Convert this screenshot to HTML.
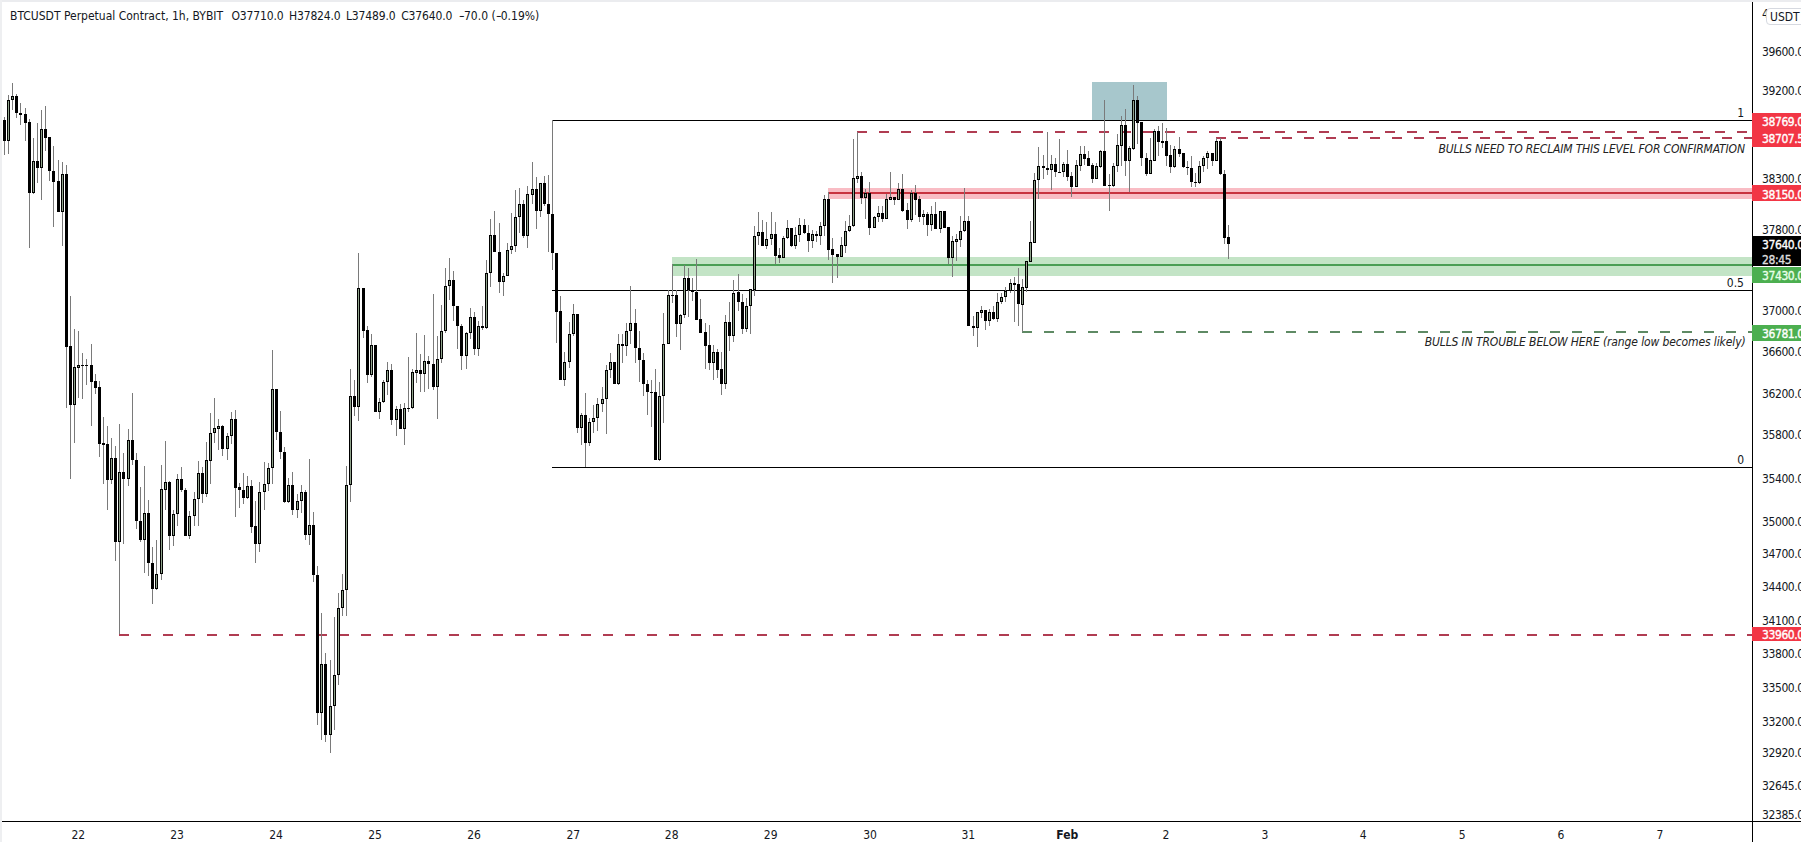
<!DOCTYPE html>
<html><head><meta charset="utf-8"><style>
html,body{margin:0;padding:0;background:#fff;}
body{width:1801px;height:842px;position:relative;overflow:hidden;font-family:"DejaVu Sans Condensed","Liberation Sans",sans-serif;}
</style></head><body>
<svg width="1801" height="842" shape-rendering="crispEdges" style="position:absolute;left:0;top:0">
<rect x="672" y="257" width="1080" height="19" fill="#c3e4c6"/>
<rect x="672" y="264" width="1080" height="2" fill="#4a9e55"/>
<rect x="828" y="188" width="924" height="11" fill="#f9bcc4"/>
<rect x="828" y="192" width="924" height="2" fill="#c8323f"/>
<rect x="1092" y="82" width="75" height="38" fill="#a7c7cc"/>
<rect x="552" y="120" width="1200" height="1" fill="#000"/>
<rect x="552" y="290" width="1200" height="1" fill="#000"/>
<rect x="552" y="467" width="1200" height="1" fill="#000"/>
<rect x="857.0" y="131.0" width="10.0" height="2" fill="#b03c52"/>
<rect x="879.0" y="131.0" width="10.0" height="2" fill="#b03c52"/>
<rect x="901.0" y="131.0" width="10.0" height="2" fill="#b03c52"/>
<rect x="923.0" y="131.0" width="10.0" height="2" fill="#b03c52"/>
<rect x="945.0" y="131.0" width="10.0" height="2" fill="#b03c52"/>
<rect x="967.0" y="131.0" width="10.0" height="2" fill="#b03c52"/>
<rect x="989.0" y="131.0" width="10.0" height="2" fill="#b03c52"/>
<rect x="1011.0" y="131.0" width="10.0" height="2" fill="#b03c52"/>
<rect x="1033.0" y="131.0" width="10.0" height="2" fill="#b03c52"/>
<rect x="1055.0" y="131.0" width="10.0" height="2" fill="#b03c52"/>
<rect x="1077.0" y="131.0" width="10.0" height="2" fill="#b03c52"/>
<rect x="1099.0" y="131.0" width="10.0" height="2" fill="#b03c52"/>
<rect x="1121.0" y="131.0" width="10.0" height="2" fill="#b03c52"/>
<rect x="1143.0" y="131.0" width="10.0" height="2" fill="#b03c52"/>
<rect x="1165.0" y="131.0" width="10.0" height="2" fill="#b03c52"/>
<rect x="1187.0" y="131.0" width="10.0" height="2" fill="#b03c52"/>
<rect x="1209.0" y="131.0" width="10.0" height="2" fill="#b03c52"/>
<rect x="1231.0" y="131.0" width="10.0" height="2" fill="#b03c52"/>
<rect x="1253.0" y="131.0" width="10.0" height="2" fill="#b03c52"/>
<rect x="1275.0" y="131.0" width="10.0" height="2" fill="#b03c52"/>
<rect x="1297.0" y="131.0" width="10.0" height="2" fill="#b03c52"/>
<rect x="1319.0" y="131.0" width="10.0" height="2" fill="#b03c52"/>
<rect x="1341.0" y="131.0" width="10.0" height="2" fill="#b03c52"/>
<rect x="1363.0" y="131.0" width="10.0" height="2" fill="#b03c52"/>
<rect x="1385.0" y="131.0" width="10.0" height="2" fill="#b03c52"/>
<rect x="1407.0" y="131.0" width="10.0" height="2" fill="#b03c52"/>
<rect x="1429.0" y="131.0" width="10.0" height="2" fill="#b03c52"/>
<rect x="1451.0" y="131.0" width="10.0" height="2" fill="#b03c52"/>
<rect x="1473.0" y="131.0" width="10.0" height="2" fill="#b03c52"/>
<rect x="1495.0" y="131.0" width="10.0" height="2" fill="#b03c52"/>
<rect x="1517.0" y="131.0" width="10.0" height="2" fill="#b03c52"/>
<rect x="1539.0" y="131.0" width="10.0" height="2" fill="#b03c52"/>
<rect x="1561.0" y="131.0" width="10.0" height="2" fill="#b03c52"/>
<rect x="1583.0" y="131.0" width="10.0" height="2" fill="#b03c52"/>
<rect x="1605.0" y="131.0" width="10.0" height="2" fill="#b03c52"/>
<rect x="1627.0" y="131.0" width="10.0" height="2" fill="#b03c52"/>
<rect x="1649.0" y="131.0" width="10.0" height="2" fill="#b03c52"/>
<rect x="1671.0" y="131.0" width="10.0" height="2" fill="#b03c52"/>
<rect x="1693.0" y="131.0" width="10.0" height="2" fill="#b03c52"/>
<rect x="1715.0" y="131.0" width="10.0" height="2" fill="#b03c52"/>
<rect x="1737.0" y="131.0" width="10.0" height="2" fill="#b03c52"/>
<rect x="1216.0" y="137.0" width="10.0" height="2" fill="#b03c52"/>
<rect x="1238.0" y="137.0" width="10.0" height="2" fill="#b03c52"/>
<rect x="1260.0" y="137.0" width="10.0" height="2" fill="#b03c52"/>
<rect x="1282.0" y="137.0" width="10.0" height="2" fill="#b03c52"/>
<rect x="1304.0" y="137.0" width="10.0" height="2" fill="#b03c52"/>
<rect x="1326.0" y="137.0" width="10.0" height="2" fill="#b03c52"/>
<rect x="1348.0" y="137.0" width="10.0" height="2" fill="#b03c52"/>
<rect x="1370.0" y="137.0" width="10.0" height="2" fill="#b03c52"/>
<rect x="1392.0" y="137.0" width="10.0" height="2" fill="#b03c52"/>
<rect x="1414.0" y="137.0" width="10.0" height="2" fill="#b03c52"/>
<rect x="1436.0" y="137.0" width="10.0" height="2" fill="#b03c52"/>
<rect x="1458.0" y="137.0" width="10.0" height="2" fill="#b03c52"/>
<rect x="1480.0" y="137.0" width="10.0" height="2" fill="#b03c52"/>
<rect x="1502.0" y="137.0" width="10.0" height="2" fill="#b03c52"/>
<rect x="1524.0" y="137.0" width="10.0" height="2" fill="#b03c52"/>
<rect x="1546.0" y="137.0" width="10.0" height="2" fill="#b03c52"/>
<rect x="1568.0" y="137.0" width="10.0" height="2" fill="#b03c52"/>
<rect x="1590.0" y="137.0" width="10.0" height="2" fill="#b03c52"/>
<rect x="1612.0" y="137.0" width="10.0" height="2" fill="#b03c52"/>
<rect x="1634.0" y="137.0" width="10.0" height="2" fill="#b03c52"/>
<rect x="1656.0" y="137.0" width="10.0" height="2" fill="#b03c52"/>
<rect x="1678.0" y="137.0" width="10.0" height="2" fill="#b03c52"/>
<rect x="1700.0" y="137.0" width="10.0" height="2" fill="#b03c52"/>
<rect x="1722.0" y="137.0" width="10.0" height="2" fill="#b03c52"/>
<rect x="1744.0" y="137.0" width="8.0" height="2" fill="#b03c52"/>
<rect x="119.0" y="634.0" width="10.0" height="2" fill="#b03c52"/>
<rect x="141.0" y="634.0" width="10.0" height="2" fill="#b03c52"/>
<rect x="163.0" y="634.0" width="10.0" height="2" fill="#b03c52"/>
<rect x="185.0" y="634.0" width="10.0" height="2" fill="#b03c52"/>
<rect x="207.0" y="634.0" width="10.0" height="2" fill="#b03c52"/>
<rect x="229.0" y="634.0" width="10.0" height="2" fill="#b03c52"/>
<rect x="251.0" y="634.0" width="10.0" height="2" fill="#b03c52"/>
<rect x="273.0" y="634.0" width="10.0" height="2" fill="#b03c52"/>
<rect x="295.0" y="634.0" width="10.0" height="2" fill="#b03c52"/>
<rect x="317.0" y="634.0" width="10.0" height="2" fill="#b03c52"/>
<rect x="339.0" y="634.0" width="10.0" height="2" fill="#b03c52"/>
<rect x="361.0" y="634.0" width="10.0" height="2" fill="#b03c52"/>
<rect x="383.0" y="634.0" width="10.0" height="2" fill="#b03c52"/>
<rect x="405.0" y="634.0" width="10.0" height="2" fill="#b03c52"/>
<rect x="427.0" y="634.0" width="10.0" height="2" fill="#b03c52"/>
<rect x="449.0" y="634.0" width="10.0" height="2" fill="#b03c52"/>
<rect x="471.0" y="634.0" width="10.0" height="2" fill="#b03c52"/>
<rect x="493.0" y="634.0" width="10.0" height="2" fill="#b03c52"/>
<rect x="515.0" y="634.0" width="10.0" height="2" fill="#b03c52"/>
<rect x="537.0" y="634.0" width="10.0" height="2" fill="#b03c52"/>
<rect x="559.0" y="634.0" width="10.0" height="2" fill="#b03c52"/>
<rect x="581.0" y="634.0" width="10.0" height="2" fill="#b03c52"/>
<rect x="603.0" y="634.0" width="10.0" height="2" fill="#b03c52"/>
<rect x="625.0" y="634.0" width="10.0" height="2" fill="#b03c52"/>
<rect x="647.0" y="634.0" width="10.0" height="2" fill="#b03c52"/>
<rect x="669.0" y="634.0" width="10.0" height="2" fill="#b03c52"/>
<rect x="691.0" y="634.0" width="10.0" height="2" fill="#b03c52"/>
<rect x="713.0" y="634.0" width="10.0" height="2" fill="#b03c52"/>
<rect x="735.0" y="634.0" width="10.0" height="2" fill="#b03c52"/>
<rect x="757.0" y="634.0" width="10.0" height="2" fill="#b03c52"/>
<rect x="779.0" y="634.0" width="10.0" height="2" fill="#b03c52"/>
<rect x="801.0" y="634.0" width="10.0" height="2" fill="#b03c52"/>
<rect x="823.0" y="634.0" width="10.0" height="2" fill="#b03c52"/>
<rect x="845.0" y="634.0" width="10.0" height="2" fill="#b03c52"/>
<rect x="867.0" y="634.0" width="10.0" height="2" fill="#b03c52"/>
<rect x="889.0" y="634.0" width="10.0" height="2" fill="#b03c52"/>
<rect x="911.0" y="634.0" width="10.0" height="2" fill="#b03c52"/>
<rect x="933.0" y="634.0" width="10.0" height="2" fill="#b03c52"/>
<rect x="955.0" y="634.0" width="10.0" height="2" fill="#b03c52"/>
<rect x="977.0" y="634.0" width="10.0" height="2" fill="#b03c52"/>
<rect x="999.0" y="634.0" width="10.0" height="2" fill="#b03c52"/>
<rect x="1021.0" y="634.0" width="10.0" height="2" fill="#b03c52"/>
<rect x="1043.0" y="634.0" width="10.0" height="2" fill="#b03c52"/>
<rect x="1065.0" y="634.0" width="10.0" height="2" fill="#b03c52"/>
<rect x="1087.0" y="634.0" width="10.0" height="2" fill="#b03c52"/>
<rect x="1109.0" y="634.0" width="10.0" height="2" fill="#b03c52"/>
<rect x="1131.0" y="634.0" width="10.0" height="2" fill="#b03c52"/>
<rect x="1153.0" y="634.0" width="10.0" height="2" fill="#b03c52"/>
<rect x="1175.0" y="634.0" width="10.0" height="2" fill="#b03c52"/>
<rect x="1197.0" y="634.0" width="10.0" height="2" fill="#b03c52"/>
<rect x="1219.0" y="634.0" width="10.0" height="2" fill="#b03c52"/>
<rect x="1241.0" y="634.0" width="10.0" height="2" fill="#b03c52"/>
<rect x="1263.0" y="634.0" width="10.0" height="2" fill="#b03c52"/>
<rect x="1285.0" y="634.0" width="10.0" height="2" fill="#b03c52"/>
<rect x="1307.0" y="634.0" width="10.0" height="2" fill="#b03c52"/>
<rect x="1329.0" y="634.0" width="10.0" height="2" fill="#b03c52"/>
<rect x="1351.0" y="634.0" width="10.0" height="2" fill="#b03c52"/>
<rect x="1373.0" y="634.0" width="10.0" height="2" fill="#b03c52"/>
<rect x="1395.0" y="634.0" width="10.0" height="2" fill="#b03c52"/>
<rect x="1417.0" y="634.0" width="10.0" height="2" fill="#b03c52"/>
<rect x="1439.0" y="634.0" width="10.0" height="2" fill="#b03c52"/>
<rect x="1461.0" y="634.0" width="10.0" height="2" fill="#b03c52"/>
<rect x="1483.0" y="634.0" width="10.0" height="2" fill="#b03c52"/>
<rect x="1505.0" y="634.0" width="10.0" height="2" fill="#b03c52"/>
<rect x="1527.0" y="634.0" width="10.0" height="2" fill="#b03c52"/>
<rect x="1549.0" y="634.0" width="10.0" height="2" fill="#b03c52"/>
<rect x="1571.0" y="634.0" width="10.0" height="2" fill="#b03c52"/>
<rect x="1593.0" y="634.0" width="10.0" height="2" fill="#b03c52"/>
<rect x="1615.0" y="634.0" width="10.0" height="2" fill="#b03c52"/>
<rect x="1637.0" y="634.0" width="10.0" height="2" fill="#b03c52"/>
<rect x="1659.0" y="634.0" width="10.0" height="2" fill="#b03c52"/>
<rect x="1681.0" y="634.0" width="10.0" height="2" fill="#b03c52"/>
<rect x="1703.0" y="634.0" width="10.0" height="2" fill="#b03c52"/>
<rect x="1725.0" y="634.0" width="10.0" height="2" fill="#b03c52"/>
<rect x="1747.0" y="634.0" width="5.0" height="2" fill="#b03c52"/>
<rect x="1022.0" y="331.0" width="10.0" height="2" fill="#5e8a64"/>
<rect x="1044.0" y="331.0" width="10.0" height="2" fill="#5e8a64"/>
<rect x="1066.0" y="331.0" width="10.0" height="2" fill="#5e8a64"/>
<rect x="1088.0" y="331.0" width="10.0" height="2" fill="#5e8a64"/>
<rect x="1110.0" y="331.0" width="10.0" height="2" fill="#5e8a64"/>
<rect x="1132.0" y="331.0" width="10.0" height="2" fill="#5e8a64"/>
<rect x="1154.0" y="331.0" width="10.0" height="2" fill="#5e8a64"/>
<rect x="1176.0" y="331.0" width="10.0" height="2" fill="#5e8a64"/>
<rect x="1198.0" y="331.0" width="10.0" height="2" fill="#5e8a64"/>
<rect x="1220.0" y="331.0" width="10.0" height="2" fill="#5e8a64"/>
<rect x="1242.0" y="331.0" width="10.0" height="2" fill="#5e8a64"/>
<rect x="1264.0" y="331.0" width="10.0" height="2" fill="#5e8a64"/>
<rect x="1286.0" y="331.0" width="10.0" height="2" fill="#5e8a64"/>
<rect x="1308.0" y="331.0" width="10.0" height="2" fill="#5e8a64"/>
<rect x="1330.0" y="331.0" width="10.0" height="2" fill="#5e8a64"/>
<rect x="1352.0" y="331.0" width="10.0" height="2" fill="#5e8a64"/>
<rect x="1374.0" y="331.0" width="10.0" height="2" fill="#5e8a64"/>
<rect x="1396.0" y="331.0" width="10.0" height="2" fill="#5e8a64"/>
<rect x="1418.0" y="331.0" width="10.0" height="2" fill="#5e8a64"/>
<rect x="1440.0" y="331.0" width="10.0" height="2" fill="#5e8a64"/>
<rect x="1462.0" y="331.0" width="10.0" height="2" fill="#5e8a64"/>
<rect x="1484.0" y="331.0" width="10.0" height="2" fill="#5e8a64"/>
<rect x="1506.0" y="331.0" width="10.0" height="2" fill="#5e8a64"/>
<rect x="1528.0" y="331.0" width="10.0" height="2" fill="#5e8a64"/>
<rect x="1550.0" y="331.0" width="10.0" height="2" fill="#5e8a64"/>
<rect x="1572.0" y="331.0" width="10.0" height="2" fill="#5e8a64"/>
<rect x="1594.0" y="331.0" width="10.0" height="2" fill="#5e8a64"/>
<rect x="1616.0" y="331.0" width="10.0" height="2" fill="#5e8a64"/>
<rect x="1638.0" y="331.0" width="10.0" height="2" fill="#5e8a64"/>
<rect x="1660.0" y="331.0" width="10.0" height="2" fill="#5e8a64"/>
<rect x="1682.0" y="331.0" width="10.0" height="2" fill="#5e8a64"/>
<rect x="1704.0" y="331.0" width="10.0" height="2" fill="#5e8a64"/>
<rect x="1726.0" y="331.0" width="10.0" height="2" fill="#5e8a64"/>
<rect x="1748.0" y="331.0" width="4.0" height="2" fill="#5e8a64"/>
<rect x="4" y="117" width="1" height="38" fill="#7a7a7a"/>
<rect x="3" y="120" width="3" height="21" fill="#000"/>
<rect x="8" y="95" width="1" height="59" fill="#7a7a7a"/>
<rect x="7" y="100" width="3" height="41" fill="#000"/>
<rect x="8" y="101" width="1" height="39" fill="#8fa38b"/>
<rect x="12" y="83" width="1" height="27" fill="#7a7a7a"/>
<rect x="11" y="96" width="3" height="4" fill="#000"/>
<rect x="12" y="97" width="1" height="2" fill="#8fa38b"/>
<rect x="16" y="94" width="1" height="24" fill="#7a7a7a"/>
<rect x="15" y="96" width="3" height="17" fill="#000"/>
<rect x="20" y="103" width="1" height="22" fill="#7a7a7a"/>
<rect x="19" y="113" width="3" height="2" fill="#000"/>
<rect x="25" y="108" width="1" height="33" fill="#7a7a7a"/>
<rect x="24" y="114" width="3" height="9" fill="#000"/>
<rect x="29" y="119" width="1" height="129" fill="#7a7a7a"/>
<rect x="28" y="122" width="3" height="71" fill="#000"/>
<rect x="33" y="138" width="1" height="56" fill="#7a7a7a"/>
<rect x="32" y="161" width="3" height="32" fill="#000"/>
<rect x="33" y="162" width="1" height="30" fill="#8fa38b"/>
<rect x="37" y="123" width="1" height="60" fill="#7a7a7a"/>
<rect x="36" y="161" width="3" height="7" fill="#000"/>
<rect x="41" y="110" width="1" height="90" fill="#7a7a7a"/>
<rect x="40" y="129" width="3" height="39" fill="#000"/>
<rect x="41" y="130" width="1" height="37" fill="#8fa38b"/>
<rect x="45" y="106" width="1" height="45" fill="#7a7a7a"/>
<rect x="44" y="129" width="3" height="9" fill="#000"/>
<rect x="49" y="137" width="1" height="44" fill="#7a7a7a"/>
<rect x="48" y="137" width="3" height="34" fill="#000"/>
<rect x="53" y="146" width="1" height="81" fill="#7a7a7a"/>
<rect x="52" y="171" width="3" height="11" fill="#000"/>
<rect x="58" y="160" width="1" height="52" fill="#7a7a7a"/>
<rect x="57" y="181" width="3" height="31" fill="#000"/>
<rect x="62" y="162" width="1" height="84" fill="#7a7a7a"/>
<rect x="61" y="174" width="3" height="38" fill="#000"/>
<rect x="62" y="175" width="1" height="36" fill="#8fa38b"/>
<rect x="66" y="165" width="1" height="243" fill="#7a7a7a"/>
<rect x="65" y="174" width="3" height="173" fill="#000"/>
<rect x="70" y="296" width="1" height="183" fill="#7a7a7a"/>
<rect x="69" y="346" width="3" height="59" fill="#000"/>
<rect x="74" y="329" width="1" height="114" fill="#7a7a7a"/>
<rect x="73" y="367" width="3" height="38" fill="#000"/>
<rect x="74" y="368" width="1" height="36" fill="#8fa38b"/>
<rect x="78" y="331" width="1" height="67" fill="#7a7a7a"/>
<rect x="77" y="365" width="3" height="3" fill="#000"/>
<rect x="78" y="366" width="1" height="1" fill="#8fa38b"/>
<rect x="82" y="353" width="1" height="46" fill="#7a7a7a"/>
<rect x="81" y="365" width="3" height="1" fill="#000"/>
<rect x="86" y="359" width="1" height="26" fill="#7a7a7a"/>
<rect x="85" y="365" width="3" height="1" fill="#000"/>
<rect x="91" y="344" width="1" height="82" fill="#7a7a7a"/>
<rect x="90" y="365" width="3" height="17" fill="#000"/>
<rect x="95" y="374" width="1" height="20" fill="#7a7a7a"/>
<rect x="94" y="381" width="3" height="7" fill="#000"/>
<rect x="99" y="381" width="1" height="76" fill="#7a7a7a"/>
<rect x="98" y="387" width="3" height="57" fill="#000"/>
<rect x="103" y="417" width="1" height="67" fill="#7a7a7a"/>
<rect x="102" y="443" width="3" height="2" fill="#000"/>
<rect x="107" y="426" width="1" height="84" fill="#7a7a7a"/>
<rect x="106" y="444" width="3" height="36" fill="#000"/>
<rect x="111" y="438" width="1" height="46" fill="#7a7a7a"/>
<rect x="110" y="458" width="3" height="22" fill="#000"/>
<rect x="111" y="459" width="1" height="20" fill="#8fa38b"/>
<rect x="115" y="446" width="1" height="115" fill="#7a7a7a"/>
<rect x="114" y="458" width="3" height="84" fill="#000"/>
<rect x="119" y="424" width="1" height="210" fill="#7a7a7a"/>
<rect x="118" y="472" width="3" height="70" fill="#000"/>
<rect x="119" y="473" width="1" height="68" fill="#8fa38b"/>
<rect x="123" y="453" width="1" height="91" fill="#7a7a7a"/>
<rect x="122" y="472" width="3" height="7" fill="#000"/>
<rect x="128" y="429" width="1" height="57" fill="#7a7a7a"/>
<rect x="127" y="440" width="3" height="39" fill="#000"/>
<rect x="128" y="441" width="1" height="37" fill="#8fa38b"/>
<rect x="132" y="393" width="1" height="72" fill="#7a7a7a"/>
<rect x="131" y="440" width="3" height="20" fill="#000"/>
<rect x="136" y="453" width="1" height="76" fill="#7a7a7a"/>
<rect x="135" y="460" width="3" height="61" fill="#000"/>
<rect x="140" y="487" width="1" height="55" fill="#7a7a7a"/>
<rect x="139" y="521" width="3" height="19" fill="#000"/>
<rect x="144" y="466" width="1" height="107" fill="#7a7a7a"/>
<rect x="143" y="513" width="3" height="27" fill="#000"/>
<rect x="144" y="514" width="1" height="25" fill="#8fa38b"/>
<rect x="148" y="500" width="1" height="76" fill="#7a7a7a"/>
<rect x="147" y="513" width="3" height="50" fill="#000"/>
<rect x="152" y="547" width="1" height="57" fill="#7a7a7a"/>
<rect x="151" y="563" width="3" height="26" fill="#000"/>
<rect x="156" y="540" width="1" height="50" fill="#7a7a7a"/>
<rect x="155" y="574" width="3" height="15" fill="#000"/>
<rect x="156" y="575" width="1" height="13" fill="#8fa38b"/>
<rect x="161" y="465" width="1" height="115" fill="#7a7a7a"/>
<rect x="160" y="489" width="3" height="85" fill="#000"/>
<rect x="161" y="490" width="1" height="83" fill="#8fa38b"/>
<rect x="165" y="441" width="1" height="69" fill="#7a7a7a"/>
<rect x="164" y="482" width="3" height="8" fill="#000"/>
<rect x="165" y="483" width="1" height="6" fill="#8fa38b"/>
<rect x="169" y="481" width="1" height="69" fill="#7a7a7a"/>
<rect x="168" y="482" width="3" height="54" fill="#000"/>
<rect x="173" y="510" width="1" height="36" fill="#7a7a7a"/>
<rect x="172" y="514" width="3" height="22" fill="#000"/>
<rect x="173" y="515" width="1" height="20" fill="#8fa38b"/>
<rect x="177" y="474" width="1" height="52" fill="#7a7a7a"/>
<rect x="176" y="479" width="3" height="35" fill="#000"/>
<rect x="177" y="480" width="1" height="33" fill="#8fa38b"/>
<rect x="181" y="467" width="1" height="25" fill="#7a7a7a"/>
<rect x="180" y="479" width="3" height="11" fill="#000"/>
<rect x="185" y="488" width="1" height="48" fill="#7a7a7a"/>
<rect x="184" y="490" width="3" height="46" fill="#000"/>
<rect x="189" y="511" width="1" height="28" fill="#7a7a7a"/>
<rect x="188" y="516" width="3" height="20" fill="#000"/>
<rect x="189" y="517" width="1" height="18" fill="#8fa38b"/>
<rect x="194" y="492" width="1" height="34" fill="#7a7a7a"/>
<rect x="193" y="499" width="3" height="17" fill="#000"/>
<rect x="194" y="500" width="1" height="15" fill="#8fa38b"/>
<rect x="198" y="461" width="1" height="65" fill="#7a7a7a"/>
<rect x="197" y="473" width="3" height="26" fill="#000"/>
<rect x="198" y="474" width="1" height="24" fill="#8fa38b"/>
<rect x="202" y="467" width="1" height="36" fill="#7a7a7a"/>
<rect x="201" y="473" width="3" height="21" fill="#000"/>
<rect x="206" y="442" width="1" height="55" fill="#7a7a7a"/>
<rect x="205" y="460" width="3" height="34" fill="#000"/>
<rect x="206" y="461" width="1" height="32" fill="#8fa38b"/>
<rect x="210" y="413" width="1" height="71" fill="#7a7a7a"/>
<rect x="209" y="433" width="3" height="28" fill="#000"/>
<rect x="210" y="434" width="1" height="26" fill="#8fa38b"/>
<rect x="214" y="398" width="1" height="45" fill="#7a7a7a"/>
<rect x="213" y="428" width="3" height="5" fill="#000"/>
<rect x="214" y="429" width="1" height="3" fill="#8fa38b"/>
<rect x="218" y="419" width="1" height="31" fill="#7a7a7a"/>
<rect x="217" y="426" width="3" height="3" fill="#000"/>
<rect x="218" y="427" width="1" height="1" fill="#8fa38b"/>
<rect x="222" y="425" width="1" height="31" fill="#7a7a7a"/>
<rect x="221" y="426" width="3" height="23" fill="#000"/>
<rect x="227" y="433" width="1" height="27" fill="#7a7a7a"/>
<rect x="226" y="436" width="3" height="13" fill="#000"/>
<rect x="227" y="437" width="1" height="11" fill="#8fa38b"/>
<rect x="231" y="412" width="1" height="32" fill="#7a7a7a"/>
<rect x="230" y="419" width="3" height="17" fill="#000"/>
<rect x="231" y="420" width="1" height="15" fill="#8fa38b"/>
<rect x="235" y="410" width="1" height="107" fill="#7a7a7a"/>
<rect x="234" y="419" width="3" height="69" fill="#000"/>
<rect x="239" y="483" width="1" height="25" fill="#7a7a7a"/>
<rect x="238" y="487" width="3" height="3" fill="#000"/>
<rect x="243" y="473" width="1" height="31" fill="#7a7a7a"/>
<rect x="242" y="490" width="3" height="8" fill="#000"/>
<rect x="247" y="476" width="1" height="23" fill="#7a7a7a"/>
<rect x="246" y="486" width="3" height="12" fill="#000"/>
<rect x="247" y="487" width="1" height="10" fill="#8fa38b"/>
<rect x="251" y="480" width="1" height="53" fill="#7a7a7a"/>
<rect x="250" y="486" width="3" height="41" fill="#000"/>
<rect x="255" y="501" width="1" height="62" fill="#7a7a7a"/>
<rect x="254" y="526" width="3" height="18" fill="#000"/>
<rect x="259" y="482" width="1" height="70" fill="#7a7a7a"/>
<rect x="258" y="492" width="3" height="52" fill="#000"/>
<rect x="259" y="493" width="1" height="50" fill="#8fa38b"/>
<rect x="264" y="462" width="1" height="48" fill="#7a7a7a"/>
<rect x="263" y="484" width="3" height="8" fill="#000"/>
<rect x="264" y="485" width="1" height="6" fill="#8fa38b"/>
<rect x="268" y="463" width="1" height="28" fill="#7a7a7a"/>
<rect x="267" y="468" width="3" height="16" fill="#000"/>
<rect x="268" y="469" width="1" height="14" fill="#8fa38b"/>
<rect x="272" y="350" width="1" height="134" fill="#7a7a7a"/>
<rect x="271" y="389" width="3" height="79" fill="#000"/>
<rect x="272" y="390" width="1" height="77" fill="#8fa38b"/>
<rect x="276" y="389" width="1" height="51" fill="#7a7a7a"/>
<rect x="275" y="389" width="3" height="43" fill="#000"/>
<rect x="280" y="411" width="1" height="48" fill="#7a7a7a"/>
<rect x="279" y="432" width="3" height="20" fill="#000"/>
<rect x="284" y="447" width="1" height="56" fill="#7a7a7a"/>
<rect x="283" y="452" width="3" height="50" fill="#000"/>
<rect x="288" y="478" width="1" height="25" fill="#7a7a7a"/>
<rect x="287" y="485" width="3" height="17" fill="#000"/>
<rect x="288" y="486" width="1" height="15" fill="#8fa38b"/>
<rect x="292" y="472" width="1" height="43" fill="#7a7a7a"/>
<rect x="291" y="485" width="3" height="25" fill="#000"/>
<rect x="297" y="494" width="1" height="24" fill="#7a7a7a"/>
<rect x="296" y="501" width="3" height="9" fill="#000"/>
<rect x="297" y="502" width="1" height="7" fill="#8fa38b"/>
<rect x="301" y="485" width="1" height="28" fill="#7a7a7a"/>
<rect x="300" y="492" width="3" height="9" fill="#000"/>
<rect x="301" y="493" width="1" height="7" fill="#8fa38b"/>
<rect x="305" y="490" width="1" height="50" fill="#7a7a7a"/>
<rect x="304" y="492" width="3" height="43" fill="#000"/>
<rect x="309" y="459" width="1" height="86" fill="#7a7a7a"/>
<rect x="308" y="525" width="3" height="10" fill="#000"/>
<rect x="309" y="526" width="1" height="8" fill="#8fa38b"/>
<rect x="313" y="512" width="1" height="70" fill="#7a7a7a"/>
<rect x="312" y="525" width="3" height="50" fill="#000"/>
<rect x="317" y="566" width="1" height="159" fill="#7a7a7a"/>
<rect x="316" y="575" width="3" height="138" fill="#000"/>
<rect x="321" y="613" width="1" height="127" fill="#7a7a7a"/>
<rect x="320" y="664" width="3" height="49" fill="#000"/>
<rect x="321" y="665" width="1" height="47" fill="#8fa38b"/>
<rect x="325" y="653" width="1" height="89" fill="#7a7a7a"/>
<rect x="324" y="664" width="3" height="71" fill="#000"/>
<rect x="330" y="660" width="1" height="93" fill="#7a7a7a"/>
<rect x="329" y="706" width="3" height="29" fill="#000"/>
<rect x="330" y="707" width="1" height="27" fill="#8fa38b"/>
<rect x="334" y="617" width="1" height="113" fill="#7a7a7a"/>
<rect x="333" y="675" width="3" height="31" fill="#000"/>
<rect x="334" y="676" width="1" height="29" fill="#8fa38b"/>
<rect x="338" y="593" width="1" height="92" fill="#7a7a7a"/>
<rect x="337" y="608" width="3" height="67" fill="#000"/>
<rect x="338" y="609" width="1" height="65" fill="#8fa38b"/>
<rect x="342" y="574" width="1" height="42" fill="#7a7a7a"/>
<rect x="341" y="590" width="3" height="18" fill="#000"/>
<rect x="342" y="591" width="1" height="16" fill="#8fa38b"/>
<rect x="346" y="466" width="1" height="150" fill="#7a7a7a"/>
<rect x="345" y="485" width="3" height="105" fill="#000"/>
<rect x="346" y="486" width="1" height="103" fill="#8fa38b"/>
<rect x="350" y="369" width="1" height="133" fill="#7a7a7a"/>
<rect x="349" y="396" width="3" height="89" fill="#000"/>
<rect x="350" y="397" width="1" height="87" fill="#8fa38b"/>
<rect x="354" y="380" width="1" height="36" fill="#7a7a7a"/>
<rect x="353" y="396" width="3" height="11" fill="#000"/>
<rect x="358" y="253" width="1" height="168" fill="#7a7a7a"/>
<rect x="357" y="288" width="3" height="119" fill="#000"/>
<rect x="358" y="289" width="1" height="117" fill="#8fa38b"/>
<rect x="363" y="288" width="1" height="50" fill="#7a7a7a"/>
<rect x="362" y="288" width="3" height="43" fill="#000"/>
<rect x="367" y="326" width="1" height="57" fill="#7a7a7a"/>
<rect x="366" y="330" width="3" height="45" fill="#000"/>
<rect x="371" y="334" width="1" height="43" fill="#7a7a7a"/>
<rect x="370" y="345" width="3" height="30" fill="#000"/>
<rect x="371" y="346" width="1" height="28" fill="#8fa38b"/>
<rect x="375" y="345" width="1" height="67" fill="#7a7a7a"/>
<rect x="374" y="345" width="3" height="67" fill="#000"/>
<rect x="379" y="398" width="1" height="21" fill="#7a7a7a"/>
<rect x="378" y="402" width="3" height="10" fill="#000"/>
<rect x="379" y="403" width="1" height="8" fill="#8fa38b"/>
<rect x="383" y="380" width="1" height="23" fill="#7a7a7a"/>
<rect x="382" y="382" width="3" height="20" fill="#000"/>
<rect x="383" y="383" width="1" height="18" fill="#8fa38b"/>
<rect x="387" y="362" width="1" height="33" fill="#7a7a7a"/>
<rect x="386" y="370" width="3" height="12" fill="#000"/>
<rect x="387" y="371" width="1" height="10" fill="#8fa38b"/>
<rect x="391" y="364" width="1" height="61" fill="#7a7a7a"/>
<rect x="390" y="370" width="3" height="50" fill="#000"/>
<rect x="396" y="406" width="1" height="30" fill="#7a7a7a"/>
<rect x="395" y="409" width="3" height="11" fill="#000"/>
<rect x="396" y="410" width="1" height="9" fill="#8fa38b"/>
<rect x="400" y="404" width="1" height="25" fill="#7a7a7a"/>
<rect x="399" y="409" width="3" height="20" fill="#000"/>
<rect x="404" y="403" width="1" height="42" fill="#7a7a7a"/>
<rect x="403" y="408" width="3" height="21" fill="#000"/>
<rect x="404" y="409" width="1" height="19" fill="#8fa38b"/>
<rect x="408" y="357" width="1" height="55" fill="#7a7a7a"/>
<rect x="407" y="408" width="3" height="1" fill="#000"/>
<rect x="412" y="369" width="1" height="40" fill="#7a7a7a"/>
<rect x="411" y="372" width="3" height="36" fill="#000"/>
<rect x="412" y="373" width="1" height="34" fill="#8fa38b"/>
<rect x="416" y="333" width="1" height="50" fill="#7a7a7a"/>
<rect x="415" y="370" width="3" height="3" fill="#000"/>
<rect x="416" y="371" width="1" height="1" fill="#8fa38b"/>
<rect x="420" y="354" width="1" height="38" fill="#7a7a7a"/>
<rect x="419" y="370" width="3" height="4" fill="#000"/>
<rect x="424" y="335" width="1" height="57" fill="#7a7a7a"/>
<rect x="423" y="361" width="3" height="13" fill="#000"/>
<rect x="424" y="362" width="1" height="11" fill="#8fa38b"/>
<rect x="428" y="356" width="1" height="33" fill="#7a7a7a"/>
<rect x="427" y="361" width="3" height="3" fill="#000"/>
<rect x="433" y="294" width="1" height="96" fill="#7a7a7a"/>
<rect x="432" y="364" width="3" height="23" fill="#000"/>
<rect x="437" y="336" width="1" height="83" fill="#7a7a7a"/>
<rect x="436" y="359" width="3" height="28" fill="#000"/>
<rect x="437" y="360" width="1" height="26" fill="#8fa38b"/>
<rect x="441" y="305" width="1" height="58" fill="#7a7a7a"/>
<rect x="440" y="331" width="3" height="28" fill="#000"/>
<rect x="441" y="332" width="1" height="26" fill="#8fa38b"/>
<rect x="445" y="268" width="1" height="65" fill="#7a7a7a"/>
<rect x="444" y="286" width="3" height="45" fill="#000"/>
<rect x="445" y="287" width="1" height="43" fill="#8fa38b"/>
<rect x="449" y="258" width="1" height="42" fill="#7a7a7a"/>
<rect x="448" y="280" width="3" height="6" fill="#000"/>
<rect x="449" y="281" width="1" height="4" fill="#8fa38b"/>
<rect x="453" y="271" width="1" height="50" fill="#7a7a7a"/>
<rect x="452" y="280" width="3" height="26" fill="#000"/>
<rect x="457" y="306" width="1" height="43" fill="#7a7a7a"/>
<rect x="456" y="306" width="3" height="20" fill="#000"/>
<rect x="461" y="324" width="1" height="46" fill="#7a7a7a"/>
<rect x="460" y="326" width="3" height="30" fill="#000"/>
<rect x="466" y="332" width="1" height="37" fill="#7a7a7a"/>
<rect x="465" y="333" width="3" height="23" fill="#000"/>
<rect x="466" y="334" width="1" height="21" fill="#8fa38b"/>
<rect x="470" y="308" width="1" height="31" fill="#7a7a7a"/>
<rect x="469" y="317" width="3" height="16" fill="#000"/>
<rect x="470" y="318" width="1" height="14" fill="#8fa38b"/>
<rect x="474" y="312" width="1" height="43" fill="#7a7a7a"/>
<rect x="473" y="317" width="3" height="32" fill="#000"/>
<rect x="478" y="321" width="1" height="35" fill="#7a7a7a"/>
<rect x="477" y="326" width="3" height="23" fill="#000"/>
<rect x="478" y="327" width="1" height="21" fill="#8fa38b"/>
<rect x="482" y="306" width="1" height="24" fill="#7a7a7a"/>
<rect x="481" y="326" width="3" height="2" fill="#000"/>
<rect x="486" y="260" width="1" height="69" fill="#7a7a7a"/>
<rect x="485" y="273" width="3" height="55" fill="#000"/>
<rect x="486" y="274" width="1" height="53" fill="#8fa38b"/>
<rect x="490" y="219" width="1" height="68" fill="#7a7a7a"/>
<rect x="489" y="235" width="3" height="38" fill="#000"/>
<rect x="490" y="236" width="1" height="36" fill="#8fa38b"/>
<rect x="494" y="211" width="1" height="41" fill="#7a7a7a"/>
<rect x="493" y="235" width="3" height="17" fill="#000"/>
<rect x="499" y="223" width="1" height="70" fill="#7a7a7a"/>
<rect x="498" y="252" width="3" height="30" fill="#000"/>
<rect x="503" y="273" width="1" height="23" fill="#7a7a7a"/>
<rect x="502" y="276" width="3" height="6" fill="#000"/>
<rect x="503" y="277" width="1" height="4" fill="#8fa38b"/>
<rect x="507" y="243" width="1" height="33" fill="#7a7a7a"/>
<rect x="506" y="250" width="3" height="26" fill="#000"/>
<rect x="507" y="251" width="1" height="24" fill="#8fa38b"/>
<rect x="511" y="213" width="1" height="41" fill="#7a7a7a"/>
<rect x="510" y="246" width="3" height="4" fill="#000"/>
<rect x="511" y="247" width="1" height="2" fill="#8fa38b"/>
<rect x="515" y="190" width="1" height="62" fill="#7a7a7a"/>
<rect x="514" y="217" width="3" height="29" fill="#000"/>
<rect x="515" y="218" width="1" height="27" fill="#8fa38b"/>
<rect x="519" y="188" width="1" height="45" fill="#7a7a7a"/>
<rect x="518" y="204" width="3" height="13" fill="#000"/>
<rect x="519" y="205" width="1" height="11" fill="#8fa38b"/>
<rect x="523" y="200" width="1" height="38" fill="#7a7a7a"/>
<rect x="522" y="204" width="3" height="32" fill="#000"/>
<rect x="527" y="186" width="1" height="62" fill="#7a7a7a"/>
<rect x="526" y="194" width="3" height="42" fill="#000"/>
<rect x="527" y="195" width="1" height="40" fill="#8fa38b"/>
<rect x="532" y="162" width="1" height="42" fill="#7a7a7a"/>
<rect x="531" y="189" width="3" height="6" fill="#000"/>
<rect x="532" y="190" width="1" height="4" fill="#8fa38b"/>
<rect x="536" y="177" width="1" height="52" fill="#7a7a7a"/>
<rect x="535" y="189" width="3" height="22" fill="#000"/>
<rect x="540" y="183" width="1" height="34" fill="#7a7a7a"/>
<rect x="539" y="183" width="3" height="28" fill="#000"/>
<rect x="540" y="184" width="1" height="26" fill="#8fa38b"/>
<rect x="544" y="176" width="1" height="30" fill="#7a7a7a"/>
<rect x="543" y="183" width="3" height="21" fill="#000"/>
<rect x="548" y="175" width="1" height="77" fill="#7a7a7a"/>
<rect x="547" y="204" width="3" height="10" fill="#000"/>
<rect x="552" y="120" width="1" height="150" fill="#7a7a7a"/>
<rect x="551" y="214" width="3" height="39" fill="#000"/>
<rect x="556" y="253" width="1" height="90" fill="#7a7a7a"/>
<rect x="555" y="253" width="3" height="59" fill="#000"/>
<rect x="560" y="296" width="1" height="84" fill="#7a7a7a"/>
<rect x="559" y="311" width="3" height="69" fill="#000"/>
<rect x="564" y="352" width="1" height="34" fill="#7a7a7a"/>
<rect x="563" y="362" width="3" height="18" fill="#000"/>
<rect x="564" y="363" width="1" height="16" fill="#8fa38b"/>
<rect x="569" y="322" width="1" height="46" fill="#7a7a7a"/>
<rect x="568" y="334" width="3" height="28" fill="#000"/>
<rect x="569" y="335" width="1" height="26" fill="#8fa38b"/>
<rect x="573" y="304" width="1" height="32" fill="#7a7a7a"/>
<rect x="572" y="314" width="3" height="20" fill="#000"/>
<rect x="573" y="315" width="1" height="18" fill="#8fa38b"/>
<rect x="577" y="314" width="1" height="119" fill="#7a7a7a"/>
<rect x="576" y="314" width="3" height="114" fill="#000"/>
<rect x="581" y="413" width="1" height="32" fill="#7a7a7a"/>
<rect x="580" y="415" width="3" height="13" fill="#000"/>
<rect x="581" y="416" width="1" height="11" fill="#8fa38b"/>
<rect x="585" y="393" width="1" height="74" fill="#7a7a7a"/>
<rect x="584" y="415" width="3" height="28" fill="#000"/>
<rect x="589" y="418" width="1" height="28" fill="#7a7a7a"/>
<rect x="588" y="422" width="3" height="21" fill="#000"/>
<rect x="589" y="423" width="1" height="19" fill="#8fa38b"/>
<rect x="593" y="405" width="1" height="28" fill="#7a7a7a"/>
<rect x="592" y="418" width="3" height="4" fill="#000"/>
<rect x="593" y="419" width="1" height="2" fill="#8fa38b"/>
<rect x="597" y="398" width="1" height="33" fill="#7a7a7a"/>
<rect x="596" y="404" width="3" height="14" fill="#000"/>
<rect x="597" y="405" width="1" height="12" fill="#8fa38b"/>
<rect x="602" y="387" width="1" height="25" fill="#7a7a7a"/>
<rect x="601" y="399" width="3" height="5" fill="#000"/>
<rect x="602" y="400" width="1" height="3" fill="#8fa38b"/>
<rect x="606" y="365" width="1" height="69" fill="#7a7a7a"/>
<rect x="605" y="370" width="3" height="29" fill="#000"/>
<rect x="606" y="371" width="1" height="27" fill="#8fa38b"/>
<rect x="610" y="353" width="1" height="25" fill="#7a7a7a"/>
<rect x="609" y="362" width="3" height="8" fill="#000"/>
<rect x="610" y="363" width="1" height="6" fill="#8fa38b"/>
<rect x="614" y="362" width="1" height="22" fill="#7a7a7a"/>
<rect x="613" y="362" width="3" height="22" fill="#000"/>
<rect x="618" y="334" width="1" height="51" fill="#7a7a7a"/>
<rect x="617" y="344" width="3" height="40" fill="#000"/>
<rect x="618" y="345" width="1" height="38" fill="#8fa38b"/>
<rect x="622" y="334" width="1" height="29" fill="#7a7a7a"/>
<rect x="621" y="344" width="3" height="2" fill="#000"/>
<rect x="626" y="323" width="1" height="33" fill="#7a7a7a"/>
<rect x="625" y="331" width="3" height="15" fill="#000"/>
<rect x="626" y="332" width="1" height="13" fill="#8fa38b"/>
<rect x="630" y="286" width="1" height="58" fill="#7a7a7a"/>
<rect x="629" y="323" width="3" height="8" fill="#000"/>
<rect x="630" y="324" width="1" height="6" fill="#8fa38b"/>
<rect x="635" y="309" width="1" height="54" fill="#7a7a7a"/>
<rect x="634" y="323" width="3" height="25" fill="#000"/>
<rect x="639" y="331" width="1" height="51" fill="#7a7a7a"/>
<rect x="638" y="348" width="3" height="12" fill="#000"/>
<rect x="643" y="353" width="1" height="43" fill="#7a7a7a"/>
<rect x="642" y="360" width="3" height="24" fill="#000"/>
<rect x="647" y="380" width="1" height="35" fill="#7a7a7a"/>
<rect x="646" y="384" width="3" height="8" fill="#000"/>
<rect x="651" y="380" width="1" height="47" fill="#7a7a7a"/>
<rect x="650" y="392" width="3" height="1" fill="#000"/>
<rect x="655" y="369" width="1" height="91" fill="#7a7a7a"/>
<rect x="654" y="392" width="3" height="68" fill="#000"/>
<rect x="659" y="382" width="1" height="79" fill="#7a7a7a"/>
<rect x="658" y="396" width="3" height="64" fill="#000"/>
<rect x="659" y="397" width="1" height="62" fill="#8fa38b"/>
<rect x="663" y="313" width="1" height="110" fill="#7a7a7a"/>
<rect x="662" y="344" width="3" height="52" fill="#000"/>
<rect x="663" y="345" width="1" height="50" fill="#8fa38b"/>
<rect x="668" y="290" width="1" height="54" fill="#7a7a7a"/>
<rect x="667" y="295" width="3" height="49" fill="#000"/>
<rect x="668" y="296" width="1" height="47" fill="#8fa38b"/>
<rect x="672" y="264" width="1" height="39" fill="#7a7a7a"/>
<rect x="671" y="295" width="3" height="1" fill="#000"/>
<rect x="676" y="290" width="1" height="47" fill="#7a7a7a"/>
<rect x="675" y="295" width="3" height="29" fill="#000"/>
<rect x="680" y="314" width="1" height="36" fill="#7a7a7a"/>
<rect x="679" y="315" width="3" height="9" fill="#000"/>
<rect x="680" y="316" width="1" height="7" fill="#8fa38b"/>
<rect x="684" y="265" width="1" height="53" fill="#7a7a7a"/>
<rect x="683" y="278" width="3" height="37" fill="#000"/>
<rect x="684" y="279" width="1" height="35" fill="#8fa38b"/>
<rect x="688" y="268" width="1" height="49" fill="#7a7a7a"/>
<rect x="687" y="278" width="3" height="12" fill="#000"/>
<rect x="692" y="278" width="1" height="23" fill="#7a7a7a"/>
<rect x="691" y="290" width="3" height="2" fill="#000"/>
<rect x="696" y="259" width="1" height="61" fill="#7a7a7a"/>
<rect x="695" y="292" width="3" height="28" fill="#000"/>
<rect x="700" y="299" width="1" height="34" fill="#7a7a7a"/>
<rect x="699" y="319" width="3" height="14" fill="#000"/>
<rect x="705" y="323" width="1" height="46" fill="#7a7a7a"/>
<rect x="704" y="332" width="3" height="14" fill="#000"/>
<rect x="709" y="325" width="1" height="45" fill="#7a7a7a"/>
<rect x="708" y="345" width="3" height="18" fill="#000"/>
<rect x="713" y="345" width="1" height="35" fill="#7a7a7a"/>
<rect x="712" y="352" width="3" height="11" fill="#000"/>
<rect x="713" y="353" width="1" height="9" fill="#8fa38b"/>
<rect x="717" y="349" width="1" height="29" fill="#7a7a7a"/>
<rect x="716" y="352" width="3" height="18" fill="#000"/>
<rect x="721" y="352" width="1" height="43" fill="#7a7a7a"/>
<rect x="720" y="369" width="3" height="15" fill="#000"/>
<rect x="725" y="315" width="1" height="74" fill="#7a7a7a"/>
<rect x="724" y="322" width="3" height="62" fill="#000"/>
<rect x="725" y="323" width="1" height="60" fill="#8fa38b"/>
<rect x="729" y="302" width="1" height="49" fill="#7a7a7a"/>
<rect x="728" y="322" width="3" height="14" fill="#000"/>
<rect x="733" y="280" width="1" height="62" fill="#7a7a7a"/>
<rect x="732" y="293" width="3" height="43" fill="#000"/>
<rect x="733" y="294" width="1" height="41" fill="#8fa38b"/>
<rect x="738" y="274" width="1" height="37" fill="#7a7a7a"/>
<rect x="737" y="292" width="3" height="10" fill="#000"/>
<rect x="742" y="294" width="1" height="40" fill="#7a7a7a"/>
<rect x="741" y="302" width="3" height="27" fill="#000"/>
<rect x="746" y="298" width="1" height="34" fill="#7a7a7a"/>
<rect x="745" y="306" width="3" height="23" fill="#000"/>
<rect x="746" y="307" width="1" height="21" fill="#8fa38b"/>
<rect x="750" y="289" width="1" height="45" fill="#7a7a7a"/>
<rect x="749" y="289" width="3" height="17" fill="#000"/>
<rect x="750" y="290" width="1" height="15" fill="#8fa38b"/>
<rect x="754" y="226" width="1" height="70" fill="#7a7a7a"/>
<rect x="753" y="236" width="3" height="54" fill="#000"/>
<rect x="754" y="237" width="1" height="52" fill="#8fa38b"/>
<rect x="758" y="212" width="1" height="33" fill="#7a7a7a"/>
<rect x="757" y="232" width="3" height="4" fill="#000"/>
<rect x="758" y="233" width="1" height="2" fill="#8fa38b"/>
<rect x="762" y="220" width="1" height="26" fill="#7a7a7a"/>
<rect x="761" y="232" width="3" height="14" fill="#000"/>
<rect x="766" y="222" width="1" height="27" fill="#7a7a7a"/>
<rect x="765" y="239" width="3" height="7" fill="#000"/>
<rect x="766" y="240" width="1" height="5" fill="#8fa38b"/>
<rect x="771" y="212" width="1" height="33" fill="#7a7a7a"/>
<rect x="770" y="234" width="3" height="5" fill="#000"/>
<rect x="771" y="235" width="1" height="3" fill="#8fa38b"/>
<rect x="775" y="222" width="1" height="42" fill="#7a7a7a"/>
<rect x="774" y="234" width="3" height="22" fill="#000"/>
<rect x="779" y="248" width="1" height="15" fill="#7a7a7a"/>
<rect x="778" y="255" width="3" height="3" fill="#000"/>
<rect x="783" y="236" width="1" height="22" fill="#7a7a7a"/>
<rect x="782" y="238" width="3" height="20" fill="#000"/>
<rect x="783" y="239" width="1" height="18" fill="#8fa38b"/>
<rect x="787" y="220" width="1" height="19" fill="#7a7a7a"/>
<rect x="786" y="228" width="3" height="10" fill="#000"/>
<rect x="787" y="229" width="1" height="8" fill="#8fa38b"/>
<rect x="791" y="228" width="1" height="19" fill="#7a7a7a"/>
<rect x="790" y="228" width="3" height="18" fill="#000"/>
<rect x="795" y="227" width="1" height="22" fill="#7a7a7a"/>
<rect x="794" y="235" width="3" height="11" fill="#000"/>
<rect x="795" y="236" width="1" height="9" fill="#8fa38b"/>
<rect x="799" y="218" width="1" height="24" fill="#7a7a7a"/>
<rect x="798" y="225" width="3" height="10" fill="#000"/>
<rect x="799" y="226" width="1" height="8" fill="#8fa38b"/>
<rect x="804" y="219" width="1" height="15" fill="#7a7a7a"/>
<rect x="803" y="225" width="3" height="8" fill="#000"/>
<rect x="808" y="225" width="1" height="27" fill="#7a7a7a"/>
<rect x="807" y="233" width="3" height="8" fill="#000"/>
<rect x="812" y="230" width="1" height="18" fill="#7a7a7a"/>
<rect x="811" y="234" width="3" height="7" fill="#000"/>
<rect x="812" y="235" width="1" height="5" fill="#8fa38b"/>
<rect x="816" y="231" width="1" height="11" fill="#7a7a7a"/>
<rect x="815" y="234" width="3" height="2" fill="#000"/>
<rect x="820" y="222" width="1" height="23" fill="#7a7a7a"/>
<rect x="819" y="226" width="3" height="10" fill="#000"/>
<rect x="820" y="227" width="1" height="8" fill="#8fa38b"/>
<rect x="824" y="195" width="1" height="41" fill="#7a7a7a"/>
<rect x="823" y="199" width="3" height="27" fill="#000"/>
<rect x="824" y="200" width="1" height="25" fill="#8fa38b"/>
<rect x="828" y="192" width="1" height="68" fill="#7a7a7a"/>
<rect x="827" y="199" width="3" height="51" fill="#000"/>
<rect x="832" y="238" width="1" height="45" fill="#7a7a7a"/>
<rect x="831" y="249" width="3" height="6" fill="#000"/>
<rect x="837" y="254" width="1" height="24" fill="#7a7a7a"/>
<rect x="836" y="254" width="3" height="3" fill="#000"/>
<rect x="841" y="237" width="1" height="20" fill="#7a7a7a"/>
<rect x="840" y="245" width="3" height="12" fill="#000"/>
<rect x="841" y="246" width="1" height="10" fill="#8fa38b"/>
<rect x="845" y="221" width="1" height="32" fill="#7a7a7a"/>
<rect x="844" y="231" width="3" height="15" fill="#000"/>
<rect x="845" y="232" width="1" height="13" fill="#8fa38b"/>
<rect x="849" y="215" width="1" height="17" fill="#7a7a7a"/>
<rect x="848" y="226" width="3" height="5" fill="#000"/>
<rect x="849" y="227" width="1" height="3" fill="#8fa38b"/>
<rect x="853" y="139" width="1" height="88" fill="#7a7a7a"/>
<rect x="852" y="178" width="3" height="48" fill="#000"/>
<rect x="853" y="179" width="1" height="46" fill="#8fa38b"/>
<rect x="857" y="132" width="1" height="51" fill="#7a7a7a"/>
<rect x="856" y="176" width="3" height="3" fill="#000"/>
<rect x="857" y="177" width="1" height="1" fill="#8fa38b"/>
<rect x="861" y="172" width="1" height="32" fill="#7a7a7a"/>
<rect x="860" y="176" width="3" height="22" fill="#000"/>
<rect x="865" y="189" width="1" height="30" fill="#7a7a7a"/>
<rect x="864" y="193" width="3" height="5" fill="#000"/>
<rect x="865" y="194" width="1" height="3" fill="#8fa38b"/>
<rect x="869" y="182" width="1" height="53" fill="#7a7a7a"/>
<rect x="868" y="193" width="3" height="35" fill="#000"/>
<rect x="874" y="216" width="1" height="12" fill="#7a7a7a"/>
<rect x="873" y="217" width="3" height="11" fill="#000"/>
<rect x="874" y="218" width="1" height="9" fill="#8fa38b"/>
<rect x="878" y="206" width="1" height="16" fill="#7a7a7a"/>
<rect x="877" y="213" width="3" height="4" fill="#000"/>
<rect x="878" y="214" width="1" height="2" fill="#8fa38b"/>
<rect x="882" y="206" width="1" height="16" fill="#7a7a7a"/>
<rect x="881" y="213" width="3" height="6" fill="#000"/>
<rect x="886" y="194" width="1" height="25" fill="#7a7a7a"/>
<rect x="885" y="199" width="3" height="20" fill="#000"/>
<rect x="886" y="200" width="1" height="18" fill="#8fa38b"/>
<rect x="890" y="172" width="1" height="28" fill="#7a7a7a"/>
<rect x="889" y="197" width="3" height="3" fill="#000"/>
<rect x="890" y="198" width="1" height="1" fill="#8fa38b"/>
<rect x="894" y="197" width="1" height="8" fill="#7a7a7a"/>
<rect x="893" y="197" width="3" height="3" fill="#000"/>
<rect x="898" y="183" width="1" height="17" fill="#7a7a7a"/>
<rect x="897" y="189" width="3" height="11" fill="#000"/>
<rect x="898" y="190" width="1" height="9" fill="#8fa38b"/>
<rect x="902" y="174" width="1" height="38" fill="#7a7a7a"/>
<rect x="901" y="189" width="3" height="22" fill="#000"/>
<rect x="907" y="203" width="1" height="26" fill="#7a7a7a"/>
<rect x="906" y="210" width="3" height="10" fill="#000"/>
<rect x="911" y="190" width="1" height="32" fill="#7a7a7a"/>
<rect x="910" y="193" width="3" height="27" fill="#000"/>
<rect x="911" y="194" width="1" height="25" fill="#8fa38b"/>
<rect x="915" y="185" width="1" height="30" fill="#7a7a7a"/>
<rect x="914" y="193" width="3" height="7" fill="#000"/>
<rect x="919" y="196" width="1" height="26" fill="#7a7a7a"/>
<rect x="918" y="199" width="3" height="18" fill="#000"/>
<rect x="923" y="210" width="1" height="15" fill="#7a7a7a"/>
<rect x="922" y="214" width="3" height="3" fill="#000"/>
<rect x="923" y="215" width="1" height="1" fill="#8fa38b"/>
<rect x="927" y="212" width="1" height="24" fill="#7a7a7a"/>
<rect x="926" y="214" width="3" height="11" fill="#000"/>
<rect x="931" y="206" width="1" height="25" fill="#7a7a7a"/>
<rect x="930" y="214" width="3" height="11" fill="#000"/>
<rect x="931" y="215" width="1" height="9" fill="#8fa38b"/>
<rect x="935" y="202" width="1" height="27" fill="#7a7a7a"/>
<rect x="934" y="214" width="3" height="15" fill="#000"/>
<rect x="940" y="211" width="1" height="22" fill="#7a7a7a"/>
<rect x="939" y="211" width="3" height="18" fill="#000"/>
<rect x="940" y="212" width="1" height="16" fill="#8fa38b"/>
<rect x="944" y="211" width="1" height="17" fill="#7a7a7a"/>
<rect x="943" y="211" width="3" height="17" fill="#000"/>
<rect x="948" y="227" width="1" height="37" fill="#7a7a7a"/>
<rect x="947" y="227" width="3" height="31" fill="#000"/>
<rect x="952" y="236" width="1" height="41" fill="#7a7a7a"/>
<rect x="951" y="241" width="3" height="17" fill="#000"/>
<rect x="952" y="242" width="1" height="15" fill="#8fa38b"/>
<rect x="956" y="234" width="1" height="27" fill="#7a7a7a"/>
<rect x="955" y="239" width="3" height="3" fill="#000"/>
<rect x="956" y="240" width="1" height="1" fill="#8fa38b"/>
<rect x="960" y="216" width="1" height="31" fill="#7a7a7a"/>
<rect x="959" y="231" width="3" height="9" fill="#000"/>
<rect x="960" y="232" width="1" height="7" fill="#8fa38b"/>
<rect x="964" y="188" width="1" height="44" fill="#7a7a7a"/>
<rect x="963" y="221" width="3" height="10" fill="#000"/>
<rect x="964" y="222" width="1" height="8" fill="#8fa38b"/>
<rect x="968" y="216" width="1" height="110" fill="#7a7a7a"/>
<rect x="967" y="221" width="3" height="105" fill="#000"/>
<rect x="973" y="316" width="1" height="20" fill="#7a7a7a"/>
<rect x="972" y="326" width="3" height="2" fill="#000"/>
<rect x="977" y="312" width="1" height="35" fill="#7a7a7a"/>
<rect x="976" y="312" width="3" height="16" fill="#000"/>
<rect x="977" y="313" width="1" height="14" fill="#8fa38b"/>
<rect x="981" y="306" width="1" height="12" fill="#7a7a7a"/>
<rect x="980" y="310" width="3" height="3" fill="#000"/>
<rect x="981" y="311" width="1" height="1" fill="#8fa38b"/>
<rect x="985" y="310" width="1" height="20" fill="#7a7a7a"/>
<rect x="984" y="310" width="3" height="11" fill="#000"/>
<rect x="989" y="309" width="1" height="17" fill="#7a7a7a"/>
<rect x="988" y="312" width="3" height="9" fill="#000"/>
<rect x="989" y="313" width="1" height="7" fill="#8fa38b"/>
<rect x="993" y="306" width="1" height="14" fill="#7a7a7a"/>
<rect x="992" y="312" width="3" height="7" fill="#000"/>
<rect x="997" y="293" width="1" height="29" fill="#7a7a7a"/>
<rect x="996" y="302" width="3" height="17" fill="#000"/>
<rect x="997" y="303" width="1" height="15" fill="#8fa38b"/>
<rect x="1001" y="293" width="1" height="11" fill="#7a7a7a"/>
<rect x="1000" y="297" width="3" height="5" fill="#000"/>
<rect x="1001" y="298" width="1" height="3" fill="#8fa38b"/>
<rect x="1005" y="287" width="1" height="15" fill="#7a7a7a"/>
<rect x="1004" y="291" width="3" height="6" fill="#000"/>
<rect x="1005" y="292" width="1" height="4" fill="#8fa38b"/>
<rect x="1010" y="279" width="1" height="14" fill="#7a7a7a"/>
<rect x="1009" y="283" width="3" height="8" fill="#000"/>
<rect x="1010" y="284" width="1" height="6" fill="#8fa38b"/>
<rect x="1014" y="277" width="1" height="45" fill="#7a7a7a"/>
<rect x="1013" y="283" width="3" height="2" fill="#000"/>
<rect x="1018" y="268" width="1" height="58" fill="#7a7a7a"/>
<rect x="1017" y="284" width="3" height="20" fill="#000"/>
<rect x="1022" y="279" width="1" height="53" fill="#7a7a7a"/>
<rect x="1021" y="287" width="3" height="18" fill="#000"/>
<rect x="1022" y="288" width="1" height="16" fill="#8fa38b"/>
<rect x="1026" y="261" width="1" height="31" fill="#7a7a7a"/>
<rect x="1025" y="261" width="3" height="27" fill="#000"/>
<rect x="1026" y="262" width="1" height="25" fill="#8fa38b"/>
<rect x="1030" y="221" width="1" height="41" fill="#7a7a7a"/>
<rect x="1029" y="242" width="3" height="20" fill="#000"/>
<rect x="1030" y="243" width="1" height="18" fill="#8fa38b"/>
<rect x="1034" y="173" width="1" height="70" fill="#7a7a7a"/>
<rect x="1033" y="180" width="3" height="63" fill="#000"/>
<rect x="1034" y="181" width="1" height="61" fill="#8fa38b"/>
<rect x="1038" y="147" width="1" height="52" fill="#7a7a7a"/>
<rect x="1037" y="166" width="3" height="14" fill="#000"/>
<rect x="1038" y="167" width="1" height="12" fill="#8fa38b"/>
<rect x="1043" y="155" width="1" height="24" fill="#7a7a7a"/>
<rect x="1042" y="166" width="3" height="2" fill="#000"/>
<rect x="1047" y="132" width="1" height="43" fill="#7a7a7a"/>
<rect x="1046" y="168" width="3" height="2" fill="#000"/>
<rect x="1051" y="155" width="1" height="35" fill="#7a7a7a"/>
<rect x="1050" y="164" width="3" height="6" fill="#000"/>
<rect x="1051" y="165" width="1" height="4" fill="#8fa38b"/>
<rect x="1055" y="158" width="1" height="19" fill="#7a7a7a"/>
<rect x="1054" y="164" width="3" height="8" fill="#000"/>
<rect x="1059" y="139" width="1" height="34" fill="#7a7a7a"/>
<rect x="1058" y="172" width="3" height="1" fill="#000"/>
<rect x="1063" y="162" width="1" height="15" fill="#7a7a7a"/>
<rect x="1062" y="164" width="3" height="8" fill="#000"/>
<rect x="1063" y="165" width="1" height="6" fill="#8fa38b"/>
<rect x="1067" y="150" width="1" height="31" fill="#7a7a7a"/>
<rect x="1066" y="164" width="3" height="13" fill="#000"/>
<rect x="1071" y="172" width="1" height="25" fill="#7a7a7a"/>
<rect x="1070" y="176" width="3" height="11" fill="#000"/>
<rect x="1076" y="160" width="1" height="27" fill="#7a7a7a"/>
<rect x="1075" y="165" width="3" height="22" fill="#000"/>
<rect x="1076" y="166" width="1" height="20" fill="#8fa38b"/>
<rect x="1080" y="146" width="1" height="25" fill="#7a7a7a"/>
<rect x="1079" y="154" width="3" height="12" fill="#000"/>
<rect x="1080" y="155" width="1" height="10" fill="#8fa38b"/>
<rect x="1084" y="146" width="1" height="19" fill="#7a7a7a"/>
<rect x="1083" y="154" width="3" height="5" fill="#000"/>
<rect x="1088" y="151" width="1" height="15" fill="#7a7a7a"/>
<rect x="1087" y="158" width="3" height="8" fill="#000"/>
<rect x="1092" y="163" width="1" height="20" fill="#7a7a7a"/>
<rect x="1091" y="165" width="3" height="14" fill="#000"/>
<rect x="1096" y="163" width="1" height="16" fill="#7a7a7a"/>
<rect x="1095" y="166" width="3" height="13" fill="#000"/>
<rect x="1096" y="167" width="1" height="11" fill="#8fa38b"/>
<rect x="1100" y="150" width="1" height="18" fill="#7a7a7a"/>
<rect x="1099" y="151" width="3" height="16" fill="#000"/>
<rect x="1100" y="152" width="1" height="14" fill="#8fa38b"/>
<rect x="1104" y="100" width="1" height="86" fill="#7a7a7a"/>
<rect x="1103" y="151" width="3" height="35" fill="#000"/>
<rect x="1109" y="174" width="1" height="37" fill="#7a7a7a"/>
<rect x="1108" y="185" width="3" height="1" fill="#000"/>
<rect x="1113" y="163" width="1" height="24" fill="#7a7a7a"/>
<rect x="1112" y="166" width="3" height="20" fill="#000"/>
<rect x="1113" y="167" width="1" height="18" fill="#8fa38b"/>
<rect x="1117" y="134" width="1" height="38" fill="#7a7a7a"/>
<rect x="1116" y="145" width="3" height="21" fill="#000"/>
<rect x="1117" y="146" width="1" height="19" fill="#8fa38b"/>
<rect x="1121" y="116" width="1" height="50" fill="#7a7a7a"/>
<rect x="1120" y="125" width="3" height="21" fill="#000"/>
<rect x="1121" y="126" width="1" height="19" fill="#8fa38b"/>
<rect x="1125" y="109" width="1" height="67" fill="#7a7a7a"/>
<rect x="1124" y="125" width="3" height="36" fill="#000"/>
<rect x="1129" y="146" width="1" height="46" fill="#7a7a7a"/>
<rect x="1128" y="148" width="3" height="13" fill="#000"/>
<rect x="1129" y="149" width="1" height="11" fill="#8fa38b"/>
<rect x="1133" y="85" width="1" height="65" fill="#7a7a7a"/>
<rect x="1132" y="100" width="3" height="49" fill="#000"/>
<rect x="1133" y="101" width="1" height="47" fill="#8fa38b"/>
<rect x="1137" y="96" width="1" height="48" fill="#7a7a7a"/>
<rect x="1136" y="100" width="3" height="23" fill="#000"/>
<rect x="1141" y="122" width="1" height="44" fill="#7a7a7a"/>
<rect x="1140" y="122" width="3" height="36" fill="#000"/>
<rect x="1146" y="153" width="1" height="23" fill="#7a7a7a"/>
<rect x="1145" y="158" width="3" height="16" fill="#000"/>
<rect x="1150" y="138" width="1" height="36" fill="#7a7a7a"/>
<rect x="1149" y="160" width="3" height="14" fill="#000"/>
<rect x="1150" y="161" width="1" height="12" fill="#8fa38b"/>
<rect x="1154" y="129" width="1" height="32" fill="#7a7a7a"/>
<rect x="1153" y="131" width="3" height="30" fill="#000"/>
<rect x="1154" y="132" width="1" height="28" fill="#8fa38b"/>
<rect x="1158" y="126" width="1" height="30" fill="#7a7a7a"/>
<rect x="1157" y="131" width="3" height="11" fill="#000"/>
<rect x="1162" y="123" width="1" height="25" fill="#7a7a7a"/>
<rect x="1161" y="141" width="3" height="2" fill="#000"/>
<rect x="1166" y="128" width="1" height="38" fill="#7a7a7a"/>
<rect x="1165" y="141" width="3" height="15" fill="#000"/>
<rect x="1170" y="145" width="1" height="28" fill="#7a7a7a"/>
<rect x="1169" y="155" width="3" height="12" fill="#000"/>
<rect x="1174" y="146" width="1" height="22" fill="#7a7a7a"/>
<rect x="1173" y="149" width="3" height="18" fill="#000"/>
<rect x="1174" y="150" width="1" height="16" fill="#8fa38b"/>
<rect x="1179" y="137" width="1" height="20" fill="#7a7a7a"/>
<rect x="1178" y="149" width="3" height="5" fill="#000"/>
<rect x="1183" y="153" width="1" height="15" fill="#7a7a7a"/>
<rect x="1182" y="153" width="3" height="14" fill="#000"/>
<rect x="1187" y="161" width="1" height="14" fill="#7a7a7a"/>
<rect x="1186" y="167" width="3" height="1" fill="#000"/>
<rect x="1191" y="156" width="1" height="31" fill="#7a7a7a"/>
<rect x="1190" y="168" width="3" height="14" fill="#000"/>
<rect x="1195" y="173" width="1" height="14" fill="#7a7a7a"/>
<rect x="1194" y="182" width="3" height="1" fill="#000"/>
<rect x="1199" y="161" width="1" height="23" fill="#7a7a7a"/>
<rect x="1198" y="166" width="3" height="17" fill="#000"/>
<rect x="1199" y="167" width="1" height="15" fill="#8fa38b"/>
<rect x="1203" y="156" width="1" height="16" fill="#7a7a7a"/>
<rect x="1202" y="158" width="3" height="8" fill="#000"/>
<rect x="1203" y="159" width="1" height="6" fill="#8fa38b"/>
<rect x="1207" y="151" width="1" height="18" fill="#7a7a7a"/>
<rect x="1206" y="153" width="3" height="5" fill="#000"/>
<rect x="1207" y="154" width="1" height="3" fill="#8fa38b"/>
<rect x="1212" y="153" width="1" height="13" fill="#7a7a7a"/>
<rect x="1211" y="153" width="3" height="8" fill="#000"/>
<rect x="1216" y="138" width="1" height="23" fill="#7a7a7a"/>
<rect x="1215" y="141" width="3" height="20" fill="#000"/>
<rect x="1216" y="142" width="1" height="18" fill="#8fa38b"/>
<rect x="1220" y="138" width="1" height="37" fill="#7a7a7a"/>
<rect x="1219" y="141" width="3" height="33" fill="#000"/>
<rect x="1224" y="170" width="1" height="74" fill="#7a7a7a"/>
<rect x="1223" y="174" width="3" height="64" fill="#000"/>
<rect x="1228" y="225" width="1" height="34" fill="#7a7a7a"/>
<rect x="1227" y="237" width="3" height="7" fill="#000"/>
<rect x="1752" y="0" width="1" height="842" fill="#000"/>
<rect x="0" y="821" width="1801" height="1" fill="#000"/>
<rect x="0" y="0" width="1801" height="2" fill="#ebecef"/>
<rect x="0" y="0" width="2" height="842" fill="#eeeff1"/>
</svg>

<div style="position:absolute;left:1752px;top:113px;width:49px;height:34px;background:#f23645"></div>
<div style="position:absolute;left:1752px;top:185px;width:49px;height:16px;background:#f23645"></div>
<div style="position:absolute;left:1752px;top:236px;width:49px;height:30px;background:#000"></div>
<div style="position:absolute;left:1752px;top:267px;width:49px;height:16px;background:#4caf50"></div>
<div style="position:absolute;left:1752px;top:325px;width:49px;height:16px;background:#4caf50"></div>
<div style="position:absolute;left:1752px;top:627px;width:49px;height:14px;background:#f23645"></div>

<div style="position:absolute;left:10px;top:10px;font-size:12px;line-height:12px;color:#131722;font-weight:normal;font-style:normal;white-space:pre;">BTCUSDT Perpetual Contract, 1h, BYBIT</div>
<div style="position:absolute;left:231.5px;top:10px;font-size:12px;line-height:12px;color:#131722;font-weight:normal;font-style:normal;white-space:pre;letter-spacing:-0.15px">O37710.0</div>
<div style="position:absolute;left:289px;top:10px;font-size:12px;line-height:12px;color:#131722;font-weight:normal;font-style:normal;white-space:pre;letter-spacing:-0.15px">H37824.0</div>
<div style="position:absolute;left:346px;top:10px;font-size:12px;line-height:12px;color:#131722;font-weight:normal;font-style:normal;white-space:pre;letter-spacing:-0.15px">L37489.0</div>
<div style="position:absolute;left:401.2px;top:10px;font-size:12px;line-height:12px;color:#131722;font-weight:normal;font-style:normal;white-space:pre;letter-spacing:-0.15px">C37640.0</div>
<div style="position:absolute;left:459px;top:10px;font-size:12px;line-height:12px;color:#131722;font-weight:normal;font-style:normal;white-space:pre;"><span style="display:inline-block;width:5px;overflow:visible"><span style="display:inline-block;transform:scaleX(0.62);transform-origin:0 0">−</span></span>70.0</div>
<div style="position:absolute;left:491.5px;top:10px;font-size:12px;line-height:12px;color:#131722;font-weight:normal;font-style:normal;white-space:pre;">(<span style="display:inline-block;width:5px;overflow:visible"><span style="display:inline-block;transform:scaleX(0.62);transform-origin:0 0">−</span></span>0.19%)</div>
<div style="position:absolute;right:56.200000000000045px;top:143px;font-size:12px;line-height:12px;color:#222;font-weight:normal;font-style:italic;white-space:pre;letter-spacing:-0.16px">BULLS NEED TO RECLAIM THIS LEVEL FOR CONFIRMATION</div>
<div style="position:absolute;right:55.5px;top:336px;font-size:12px;line-height:12px;color:#222;font-weight:normal;font-style:italic;white-space:pre;letter-spacing:-0.12px">BULLS IN TROUBLE BELOW HERE (range low becomes likely)</div>
<div style="position:absolute;right:57px;top:107px;font-size:12px;line-height:12px;color:#131722;font-weight:normal;font-style:normal;white-space:pre;">1</div>
<div style="position:absolute;right:57px;top:277px;font-size:12px;line-height:12px;color:#131722;font-weight:normal;font-style:normal;white-space:pre;">0.5</div>
<div style="position:absolute;right:57px;top:454px;font-size:12px;line-height:12px;color:#131722;font-weight:normal;font-style:normal;white-space:pre;">0</div>
<div style="position:absolute;left:1762px;top:46px;font-size:12px;line-height:12px;color:#131722;font-weight:normal;font-style:normal;white-space:pre;letter-spacing:-0.4px">39600.0</div>
<div style="position:absolute;left:1762px;top:85px;font-size:12px;line-height:12px;color:#131722;font-weight:normal;font-style:normal;white-space:pre;letter-spacing:-0.4px">39200.0</div>
<div style="position:absolute;left:1762px;top:173px;font-size:12px;line-height:12px;color:#131722;font-weight:normal;font-style:normal;white-space:pre;letter-spacing:-0.4px">38300.0</div>
<div style="position:absolute;left:1762px;top:224px;font-size:12px;line-height:12px;color:#131722;font-weight:normal;font-style:normal;white-space:pre;letter-spacing:-0.4px">37800.0</div>
<div style="position:absolute;left:1762px;top:305px;font-size:12px;line-height:12px;color:#131722;font-weight:normal;font-style:normal;white-space:pre;letter-spacing:-0.4px">37000.0</div>
<div style="position:absolute;left:1762px;top:346px;font-size:12px;line-height:12px;color:#131722;font-weight:normal;font-style:normal;white-space:pre;letter-spacing:-0.4px">36600.0</div>
<div style="position:absolute;left:1762px;top:388px;font-size:12px;line-height:12px;color:#131722;font-weight:normal;font-style:normal;white-space:pre;letter-spacing:-0.4px">36200.0</div>
<div style="position:absolute;left:1762px;top:429px;font-size:12px;line-height:12px;color:#131722;font-weight:normal;font-style:normal;white-space:pre;letter-spacing:-0.4px">35800.0</div>
<div style="position:absolute;left:1762px;top:473px;font-size:12px;line-height:12px;color:#131722;font-weight:normal;font-style:normal;white-space:pre;letter-spacing:-0.4px">35400.0</div>
<div style="position:absolute;left:1762px;top:516px;font-size:12px;line-height:12px;color:#131722;font-weight:normal;font-style:normal;white-space:pre;letter-spacing:-0.4px">35000.0</div>
<div style="position:absolute;left:1762px;top:548px;font-size:12px;line-height:12px;color:#131722;font-weight:normal;font-style:normal;white-space:pre;letter-spacing:-0.4px">34700.0</div>
<div style="position:absolute;left:1762px;top:581px;font-size:12px;line-height:12px;color:#131722;font-weight:normal;font-style:normal;white-space:pre;letter-spacing:-0.4px">34400.0</div>
<div style="position:absolute;left:1762px;top:615px;font-size:12px;line-height:12px;color:#131722;font-weight:normal;font-style:normal;white-space:pre;letter-spacing:-0.4px">34100.0</div>
<div style="position:absolute;left:1762px;top:648px;font-size:12px;line-height:12px;color:#131722;font-weight:normal;font-style:normal;white-space:pre;letter-spacing:-0.4px">33800.0</div>
<div style="position:absolute;left:1762px;top:682px;font-size:12px;line-height:12px;color:#131722;font-weight:normal;font-style:normal;white-space:pre;letter-spacing:-0.4px">33500.0</div>
<div style="position:absolute;left:1762px;top:716px;font-size:12px;line-height:12px;color:#131722;font-weight:normal;font-style:normal;white-space:pre;letter-spacing:-0.4px">33200.0</div>
<div style="position:absolute;left:1762px;top:747px;font-size:12px;line-height:12px;color:#131722;font-weight:normal;font-style:normal;white-space:pre;letter-spacing:-0.4px">32920.0</div>
<div style="position:absolute;left:1762px;top:780px;font-size:12px;line-height:12px;color:#131722;font-weight:normal;font-style:normal;white-space:pre;letter-spacing:-0.4px">32645.0</div>
<div style="position:absolute;left:1762px;top:809px;font-size:12px;line-height:12px;color:#131722;font-weight:normal;font-style:normal;white-space:pre;letter-spacing:-0.4px">32385.0</div>
<div style="position:absolute;left:28.299999999999997px;width:100px;text-align:center;top:829px;font-size:12px;line-height:12px;color:#131722;font-weight:normal;white-space:pre;">22</div>
<div style="position:absolute;left:127px;width:100px;text-align:center;top:829px;font-size:12px;line-height:12px;color:#131722;font-weight:normal;white-space:pre;">23</div>
<div style="position:absolute;left:226px;width:100px;text-align:center;top:829px;font-size:12px;line-height:12px;color:#131722;font-weight:normal;white-space:pre;">24</div>
<div style="position:absolute;left:325px;width:100px;text-align:center;top:829px;font-size:12px;line-height:12px;color:#131722;font-weight:normal;white-space:pre;">25</div>
<div style="position:absolute;left:424px;width:100px;text-align:center;top:829px;font-size:12px;line-height:12px;color:#131722;font-weight:normal;white-space:pre;">26</div>
<div style="position:absolute;left:523.3px;width:100px;text-align:center;top:829px;font-size:12px;line-height:12px;color:#131722;font-weight:normal;white-space:pre;">27</div>
<div style="position:absolute;left:621.7px;width:100px;text-align:center;top:829px;font-size:12px;line-height:12px;color:#131722;font-weight:normal;white-space:pre;">28</div>
<div style="position:absolute;left:720.7px;width:100px;text-align:center;top:829px;font-size:12px;line-height:12px;color:#131722;font-weight:normal;white-space:pre;">29</div>
<div style="position:absolute;left:820px;width:100px;text-align:center;top:829px;font-size:12px;line-height:12px;color:#131722;font-weight:normal;white-space:pre;">30</div>
<div style="position:absolute;left:918.3px;width:100px;text-align:center;top:829px;font-size:12px;line-height:12px;color:#131722;font-weight:normal;white-space:pre;">31</div>
<div style="position:absolute;left:1017.3px;width:100px;text-align:center;top:829px;font-size:12px;line-height:12px;color:#131722;font-weight:bold;white-space:pre;">Feb</div>
<div style="position:absolute;left:1116px;width:100px;text-align:center;top:829px;font-size:12px;line-height:12px;color:#131722;font-weight:normal;white-space:pre;">2</div>
<div style="position:absolute;left:1215px;width:100px;text-align:center;top:829px;font-size:12px;line-height:12px;color:#131722;font-weight:normal;white-space:pre;">3</div>
<div style="position:absolute;left:1313.3px;width:100px;text-align:center;top:829px;font-size:12px;line-height:12px;color:#131722;font-weight:normal;white-space:pre;">4</div>
<div style="position:absolute;left:1412.3px;width:100px;text-align:center;top:829px;font-size:12px;line-height:12px;color:#131722;font-weight:normal;white-space:pre;">5</div>
<div style="position:absolute;left:1511px;width:100px;text-align:center;top:829px;font-size:12px;line-height:12px;color:#131722;font-weight:normal;white-space:pre;">6</div>
<div style="position:absolute;left:1610px;width:100px;text-align:center;top:829px;font-size:12px;line-height:12px;color:#131722;font-weight:normal;white-space:pre;">7</div>
<div style="position:absolute;left:1762px;top:116px;font-size:12px;line-height:12px;color:#fff;font-weight:normal;font-style:normal;white-space:pre;letter-spacing:-0.4px;-webkit-text-stroke:0.35px #fff">38769.0</div>
<div style="position:absolute;left:1762px;top:133px;font-size:12px;line-height:12px;color:#fff;font-weight:normal;font-style:normal;white-space:pre;letter-spacing:-0.4px;-webkit-text-stroke:0.35px #fff">38707.5</div>
<div style="position:absolute;left:1762px;top:189px;font-size:12px;line-height:12px;color:#fff;font-weight:normal;font-style:normal;white-space:pre;letter-spacing:-0.4px;-webkit-text-stroke:0.35px #fff">38150.0</div>
<div style="position:absolute;left:1762px;top:239px;font-size:12px;line-height:12px;color:#fff;font-weight:normal;font-style:normal;white-space:pre;letter-spacing:-0.4px;-webkit-text-stroke:0.35px #fff">37640.0</div>
<div style="position:absolute;left:1762px;top:254px;font-size:12px;line-height:12px;color:#ddd;font-weight:normal;font-style:normal;white-space:pre;letter-spacing:-0.4px;-webkit-text-stroke:0.35px #ddd">28:45</div>
<div style="position:absolute;left:1762px;top:270px;font-size:12px;line-height:12px;color:#e8ffe8;font-weight:normal;font-style:normal;white-space:pre;letter-spacing:-0.4px;-webkit-text-stroke:0.35px #e8ffe8">37430.0</div>
<div style="position:absolute;left:1762px;top:328px;font-size:12px;line-height:12px;color:#fff;font-weight:normal;font-style:normal;white-space:pre;letter-spacing:-0.4px;-webkit-text-stroke:0.35px #fff">36781.0</div>
<div style="position:absolute;left:1762px;top:629px;font-size:12px;line-height:12px;color:#fff;font-weight:normal;font-style:normal;white-space:pre;letter-spacing:-0.4px;-webkit-text-stroke:0.35px #fff">33960.0</div>
<div style="position:absolute;left:1762px;top:8px;font-size:12px;line-height:12px;color:#131722;font-weight:normal;font-style:normal;white-space:pre;letter-spacing:-0.4px">40000.0</div>
<div style="position:absolute;left:1766px;top:8px;width:40px;height:17px;border:1px solid #d6d9e0;border-radius:4px;background:#fff;box-sizing:border-box"></div>
<div style="position:absolute;left:1770px;top:11px;font-size:12px;line-height:12px;color:#131722;white-space:pre">USDT</div>
</body></html>
